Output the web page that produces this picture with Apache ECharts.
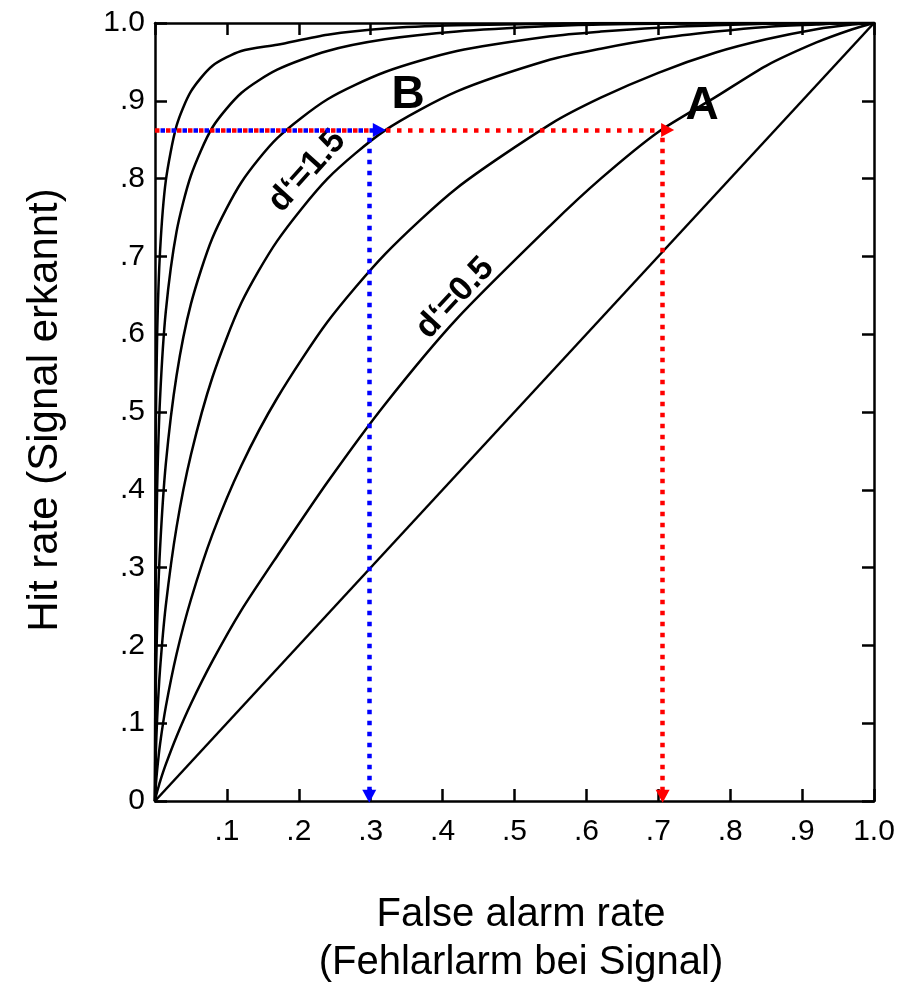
<!DOCTYPE html>
<html>
<head>
<meta charset="utf-8">
<script src="https://cdn.jsdelivr.net/npm/echarts@6/dist/echarts.min.js"></script>
<style>
  html, body { margin: 0; padding: 0; background: #fff; }
  #main { width: 910px; height: 989px; }
</style>
</head>
<body>
<div id="main"></div>
<script>
// false alarm rate (x), shared by all ROC curves
var fa = [0, 0.001, 0.003, 0.007, 0.015, 0.03, 0.05, 0.08, 0.12, 0.17, 0.24, 0.32, 0.42, 0.55, 0.62, 0.7, 0.78, 0.85, 0.92, 0.97, 1];
// hit rate
var hit05 = [0, 0.005, 0.012, 0.025, 0.047, 0.083, 0.125, 0.18, 0.245, 0.315, 0.41, 0.51, 0.62, 0.74, 0.80, 0.86, 0.905, 0.945, 0.975, 0.992, 1];
var hit10 = [0, 0.018, 0.04, 0.073, 0.121, 0.189, 0.259, 0.343, 0.431, 0.518, 0.616, 0.703, 0.788, 0.870, 0.904, 0.936, 0.962, 0.979, 0.992, 0.998, 1];
var hit15 = [0, 0.056, 0.106, 0.169, 0.251, 0.352, 0.445, 0.545, 0.64, 0.72, 0.80, 0.862, 0.912, 0.953, 0.967, 0.98, 0.989, 0.995, 0.998, 1, 1];
var hit20 = [0, 0.138, 0.227, 0.324, 0.433, 0.547, 0.639, 0.724, 0.795, 0.852, 0.902, 0.937, 0.964, 0.983, 0.989, 0.994, 0.997, 0.999, 1, 1, 1];
var hit25 = [0, 0.278, 0.402, 0.517, 0.629, 0.732, 0.804, 0.866, 0.91, 0.94, 0.964, 0.979, 0.989, 0.996, 0.998, 0.999, 1, 1, 1, 1, 1];
var hit30 = [0, 0.464, 0.599, 0.706, 0.797, 0.868, 0.912, 0.945, 0.964, 0.972, 0.985, 0.993, 0.997, 0.999, 1, 1, 1, 1, 1, 1, 1];
var diagFa = [0, 1];
var diagHit = [0, 1];
var curves = [hit05, hit10, hit15, hit20, hit25, hit30];

// the two marked points
var pointA = [0.706, 0.8625];
var pointB = [0.298, 0.8625];
var arrowEndA = 0.713;
var arrowEndB = 0.312;

var chart = echarts.init(document.getElementById('main'));

function pairs(xs, ys) {
  var out = [];
  for (var i = 0; i < xs.length; i++) out.push([xs[i], ys[i]]);
  return out;
}

function fmt(v, isY) {
  var n = Math.round(v * 10);
  if (n === 0) return isY ? '0' : '';
  if (n === 10) return '1.0';
  return '.' + n;
}

function axisLine() {
  return { show: true, onZero: false, lineStyle: { color: '#000', width: 2.5 } };
}
function tick() {
  return { show: true, inside: true, length: 12, lineStyle: { color: '#000', width: 2.5 } };
}
var lblFont = { color: '#000', fontSize: 30, fontFamily: 'Liberation Sans' };

var series = [];
var guideStyle = function (color) {
  return { color: color, width: 4.5, type: [4.5, 6.5], cap: 'butt' };
};
series.push({
  type: 'line',
  data: pairs(diagFa, diagHit),
  symbol: 'none',
  lineStyle: { color: '#000', width: 2.5 },
  silent: true,
  z: 2,
  markLine: {
    silent: true,
    symbol: ['none', 'triangle'],
    symbolSize: [14, 13],
    label: { show: false },
    emphasis: { disabled: true },
    data: [
      [{ coord: [0, pointA[1]], lineStyle: guideStyle('#ff0000') }, { coord: [arrowEndA, pointA[1]] }],
      [{ coord: [pointA[0], pointA[1] - 0.01], lineStyle: guideStyle('#ff0000') }, { coord: [pointA[0], 0.006] }],
      [{ coord: [0, pointB[1]], lineStyle: Object.assign(guideStyle('#0000ff'), { dashOffset: 5.5 }) }, { coord: [arrowEndB, pointB[1]] }],
      [{ coord: [pointB[0], pointB[1] - 0.01], lineStyle: guideStyle('#0000ff') }, { coord: [pointB[0], 0.006] }]
    ]
  }
});
curves.forEach(function (c) {
  series.push({
    type: 'line',
    data: pairs(fa, c),
    symbol: 'none',
    smooth: 0.25,
    lineStyle: { color: '#000', width: 2.5 },
    silent: true,
    z: 2
  });
});

var option = {
  backgroundColor: '#fff',
  animation: false,
  grid: { left: 155, right: 36, top: 23, bottom: 188 },
  xAxis: [{
    type: 'value', min: 0, max: 1, interval: 0.1, position: 'bottom',
    axisLine: axisLine(), axisTick: tick(), splitLine: { show: false },
    axisLabel: Object.assign({ margin: 16, formatter: function (v) { return fmt(v, false); } }, lblFont)
  }, {
    type: 'value', min: 0, max: 1, interval: 0.1, position: 'top',
    axisLine: axisLine(), axisTick: tick(), splitLine: { show: false },
    axisLabel: { show: false }
  }],
  yAxis: [{
    type: 'value', min: 0, max: 1, interval: 0.1, position: 'left',
    axisLine: axisLine(), axisTick: tick(), splitLine: { show: false },
    axisLabel: Object.assign({ margin: 10, formatter: function (v) { return fmt(v, true); } }, lblFont)
  }, {
    type: 'value', min: 0, max: 1, interval: 0.1, position: 'right',
    axisLine: axisLine(), axisTick: tick(), splitLine: { show: false },
    axisLabel: { show: false }
  }],
  series: series,
  graphic: [
    { type: 'text', x: 45, y: 410, rotation: Math.PI / 2,
      style: { text: 'Hit rate (Signal erkannt)', fill: '#000', font: '42px "Liberation Sans"', textAlign: 'center', textVerticalAlign: 'middle' } },
    { type: 'text', x: 521, y: 915,
      style: { text: 'False alarm rate', fill: '#000', font: '40px "Liberation Sans"', textAlign: 'center', textVerticalAlign: 'middle' } },
    { type: 'text', x: 521, y: 963,
      style: { text: '(Fehlarlarm bei Signal)', fill: '#000', font: '40px "Liberation Sans"', textAlign: 'center', textVerticalAlign: 'middle' } },
    { type: 'text', x: 408, y: 95,
      style: { text: 'B', fill: '#000', font: 'bold 46px "Liberation Sans"', textAlign: 'center', textVerticalAlign: 'middle' } },
    { type: 'text', x: 702, y: 106,
      style: { text: 'A', fill: '#000', font: 'bold 46px "Liberation Sans"', textAlign: 'center', textVerticalAlign: 'middle' } },
    { type: 'text', x: 307, y: 171, rotation: 48 * Math.PI / 180,
      style: { text: 'd\u2018=1.5', fill: '#000', font: 'bold 34px "Liberation Sans"', textAlign: 'center', textVerticalAlign: 'middle' } },
    { type: 'text', x: 455, y: 298, rotation: 47 * Math.PI / 180,
      style: { text: 'd\u2018=0.5', fill: '#000', font: 'bold 34px "Liberation Sans"', textAlign: 'center', textVerticalAlign: 'middle' } }
  ]
};
chart.setOption(option);
window.onresize = function () { chart.resize(); };
</script>
</body>
</html>
